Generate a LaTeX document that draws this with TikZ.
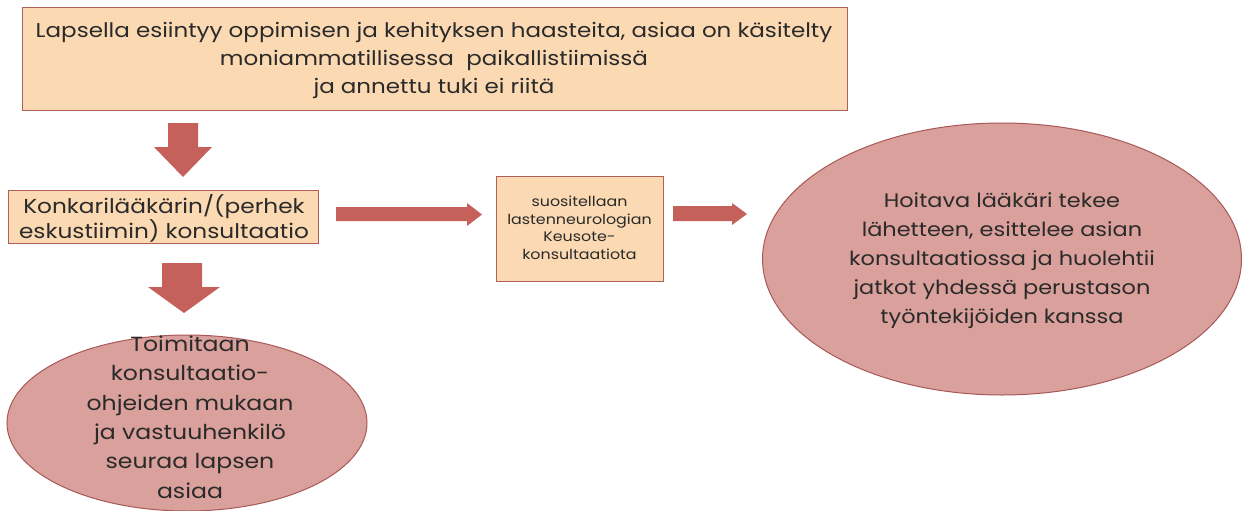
\documentclass[tikz,border=0pt]{standalone}
\usepackage{fontspec}
\setmainfont{Poppins}[FakeStretch=1.15]
\usetikzlibrary{shapes.geometric}
\definecolor{boxfill}{HTML}{FBD9B2}
\definecolor{boxline}{HTML}{B0605A}
\definecolor{arrowfill}{HTML}{C5605A}
\definecolor{ellfill}{HTML}{DAA09B}
\definecolor{ellline}{HTML}{A85858}
\definecolor{txt}{HTML}{2A2A2A}
\tikzset{
  x=1pt, y=-1pt,
  boxnode/.style={draw=boxline, line width=1.3pt, fill=boxfill, inner sep=0pt, anchor=north west, text=txt, align=center},
  ellnode/.style={ellipse, draw=ellline, line width=1pt, fill=ellfill, inner sep=0pt},
  blockarrow/.style={fill=arrowfill, draw=none},
  txtnode/.style={text=txt, align=center}
}
\begin{document}
\begin{tikzpicture}
\useasboundingbox (0,0) rectangle (1242,511);
% top box
\node[boxnode, minimum width=825pt, minimum height=103pt] (top) at (22,7) {};
\node[txtnode, font=\fontsize{20}{28}\selectfont] (toptext) at (434,60) {Lapsella esiintyy oppimisen ja kehityksen haasteita, asiaa on käsitelty\\moniammatillisessa\ \ paikallistiimissä\\ja annettu tuki ei riitä};
% second box
\node[boxnode, minimum width=310pt, minimum height=53pt] (kons) at (8,190) {};
\node[txtnode, font=\fontsize{20.2}{25}\selectfont] (konstext) at (164,218) {Konkarilääkärin/(perhek\\eskustiimin) konsultaatio};
% small box
\node[boxnode, minimum width=167pt, minimum height=105pt] (keus) at (496,176) {};
\node[txtnode, font=\fontsize{13.8}{17.5}\selectfont] (keustext) at (579.5,228) {suositellaan\\lastenneurologian\\Keusote-\\konsultaatiota};
% right ellipse
\node[ellnode, minimum width=479pt, minimum height=272pt] (hoit) at (1002,259) {};
\node[txtnode, font=\fontsize{19.5}{29}\selectfont] (hoittext) at (1002,261) {Hoitava lääkäri tekee\\lähetteen, esittelee asian\\konsultaatiossa ja huolehtii\\jatkot yhdessä perustason\\työntekijöiden kanssa};
% left ellipse
\node[ellnode, minimum width=360pt, minimum height=176pt] (toim) at (187,423) {};
\node[txtnode, font=\fontsize{20.5}{29.4}\selectfont] (toimtext) at (190,417) {Toimitaan\\konsultaatio-\\ohjeiden mukaan\\ja vastuuhenkilö\\seuraa lapsen\\asiaa};
% block arrows
\fill[blockarrow] (168,123) -- (198,123) -- (198,147) -- (212,147) -- (183,177) -- (154,147) -- (168,147) -- cycle;
\fill[blockarrow] (162,263) -- (202,263) -- (202,287) -- (220,287) -- (184,313) -- (148,287) -- (162,287) -- cycle;
\fill[blockarrow] (336,207) -- (467,207) -- (467,203) -- (482,214.5) -- (467,226) -- (467,221) -- (336,221) -- cycle;
\fill[blockarrow] (673,206) -- (732,206) -- (732,203) -- (747,214) -- (732,225) -- (732,221) -- (673,221) -- cycle;
\end{tikzpicture}
\end{document}
